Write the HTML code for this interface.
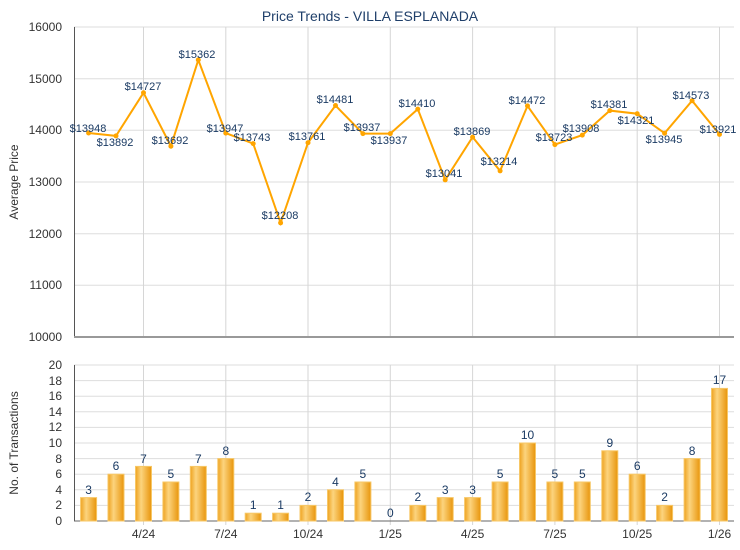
<!DOCTYPE html><html><head><meta charset="utf-8"><style>body{margin:0;background:#fff}svg{display:block;font-family:"Liberation Sans",sans-serif}</style></head><body>
<svg width="740" height="550" viewBox="0 0 740 550" xmlns="http://www.w3.org/2000/svg">
<defs><linearGradient id="g" x1="0" x2="1" y1="0" y2="0"><stop offset="0" stop-color="#eea21f"/><stop offset="0.35" stop-color="#fcd47e"/><stop offset="1" stop-color="#e8950c"/></linearGradient></defs>
<text x="370" y="21" text-anchor="middle" font-size="14" fill="#1f3f6a">Price Trends - VILLA ESPLANADA</text>
<g stroke="#ddd" stroke-width="1">
<line x1="74" x2="734" y1="27" y2="27"/><line x1="74" x2="734" y1="78.7" y2="78.7"/><line x1="74" x2="734" y1="130.3" y2="130.3"/><line x1="74" x2="734" y1="182" y2="182"/><line x1="74" x2="734" y1="233.7" y2="233.7"/><line x1="74" x2="734" y1="285.3" y2="285.3"/>
<line x1="74" x2="734" y1="365" y2="365"/><line x1="74" x2="734" y1="380.6" y2="380.6"/><line x1="74" x2="734" y1="396.2" y2="396.2"/><line x1="74" x2="734" y1="411.8" y2="411.8"/><line x1="74" x2="734" y1="427.4" y2="427.4"/><line x1="74" x2="734" y1="443" y2="443"/><line x1="74" x2="734" y1="458.6" y2="458.6"/><line x1="74" x2="734" y1="474.2" y2="474.2"/><line x1="74" x2="734" y1="489.8" y2="489.8"/><line x1="74" x2="734" y1="505.4" y2="505.4"/>
</g>
<g stroke="#d6d6d6">
<line x1="143.5" x2="143.5" y1="27" y2="337"/><line x1="225.8" x2="225.8" y1="27" y2="337"/><line x1="308" x2="308" y1="27" y2="337"/><line x1="390.3" x2="390.3" y1="27" y2="337"/><line x1="472.6" x2="472.6" y1="27" y2="337"/><line x1="554.9" x2="554.9" y1="27" y2="337"/><line x1="637.2" x2="637.2" y1="27" y2="337"/><line x1="719.5" x2="719.5" y1="27" y2="337"/>
<line x1="143.5" x2="143.5" y1="365" y2="525"/><line x1="225.8" x2="225.8" y1="365" y2="525"/><line x1="308" x2="308" y1="365" y2="525"/><line x1="390.3" x2="390.3" y1="365" y2="525"/><line x1="472.6" x2="472.6" y1="365" y2="525"/><line x1="554.9" x2="554.9" y1="365" y2="525"/><line x1="637.2" x2="637.2" y1="365" y2="525"/><line x1="719.5" x2="719.5" y1="365" y2="525"/>
</g>
<line x1="74.5" x2="74.5" y1="27" y2="337" stroke="#555"/>
<line x1="74" x2="734" y1="337" y2="337" stroke="#999" stroke-width="2"/>
<line x1="74.5" x2="74.5" y1="365" y2="521" stroke="#555"/>
<line x1="74" x2="734" y1="521" y2="521" stroke="#666"/>
<g font-size="12" fill="#333" text-anchor="end">
<text x="62" y="31">16000</text><text x="62" y="83">15000</text><text x="62" y="134">14000</text><text x="62" y="186">13000</text><text x="62" y="238">12000</text><text x="62" y="289">11000</text><text x="62" y="341">10000</text>
<text x="62" y="369">20</text><text x="62" y="385">18</text><text x="62" y="400">16</text><text x="62" y="416">14</text><text x="62" y="431">12</text><text x="62" y="447">10</text><text x="62" y="463">8</text><text x="62" y="478">6</text><text x="62" y="494">4</text><text x="62" y="509">2</text><text x="62" y="525">0</text>
</g>
<text transform="translate(18,182) rotate(-90)" font-size="12" fill="#333" text-anchor="middle">Average Price</text>
<text transform="translate(18,443) rotate(-90)" font-size="12" fill="#333" text-anchor="middle">No. of Transactions</text>
<g font-size="12" fill="#333" text-anchor="middle">
<text x="143.5" y="538">4/24</text><text x="225.8" y="538">7/24</text><text x="308" y="538">10/24</text><text x="390.3" y="538">1/25</text><text x="472.6" y="538">4/25</text><text x="554.9" y="538">7/25</text><text x="637.2" y="538">10/25</text><text x="719.5" y="538">1/26</text>
</g>
<polyline fill="none" stroke="#ffa500" stroke-width="2" points="88.6,133 116,135.9 143.5,92.8 170.9,146.2 198.3,59.9 225.8,133.1 253.2,143.6 280.6,222.9 308,142.7 335.5,105.5 362.9,133.6 390.3,133.6 417.8,109.1 445.2,179.9 472.6,137.1 500.1,170.9 527.5,105.9 554.9,144.6 582.3,135.1 609.8,110.6 637.2,113.7 664.6,133.2 692.1,100.7 719.5,134.4"/>
<g fill="#ffa500">
<circle cx="88.6" cy="133" r="2.5"/><circle cx="116" cy="135.9" r="2.5"/><circle cx="143.5" cy="92.8" r="2.5"/><circle cx="170.9" cy="146.2" r="2.5"/><circle cx="198.3" cy="59.9" r="2.5"/><circle cx="225.8" cy="133.1" r="2.5"/><circle cx="253.2" cy="143.6" r="2.5"/><circle cx="280.6" cy="222.9" r="2.5"/><circle cx="308" cy="142.7" r="2.5"/><circle cx="335.5" cy="105.5" r="2.5"/><circle cx="362.9" cy="133.6" r="2.5"/><circle cx="390.3" cy="133.6" r="2.5"/><circle cx="417.8" cy="109.1" r="2.5"/><circle cx="445.2" cy="179.9" r="2.5"/><circle cx="472.6" cy="137.1" r="2.5"/><circle cx="500.1" cy="170.9" r="2.5"/><circle cx="527.5" cy="105.9" r="2.5"/><circle cx="554.9" cy="144.6" r="2.5"/><circle cx="582.3" cy="135.1" r="2.5"/><circle cx="609.8" cy="110.6" r="2.5"/><circle cx="637.2" cy="113.7" r="2.5"/><circle cx="664.6" cy="133.2" r="2.5"/><circle cx="692.1" cy="100.7" r="2.5"/><circle cx="719.5" cy="134.4" r="2.5"/>
</g>
<g font-size="11" fill="#1a3a63" text-anchor="middle">
<text x="88" y="132">$13948</text><text x="115" y="146">$13892</text><text x="143" y="90">$14727</text><text x="170" y="144">$13692</text><text x="197" y="58">$15362</text><text x="225" y="132">$13947</text><text x="252" y="141">$13743</text><text x="280" y="219">$12208</text><text x="307" y="140">$13761</text><text x="335" y="103">$14481</text><text x="362" y="131">$13937</text><text x="389" y="144">$13937</text><text x="417" y="107">$14410</text><text x="444" y="177">$13041</text><text x="472" y="135">$13869</text><text x="499" y="165">$13214</text><text x="527" y="104">$14472</text><text x="554" y="141">$13723</text><text x="581" y="132">$13908</text><text x="609" y="108">$14381</text><text x="636" y="124">$14321</text><text x="664" y="143">$13945</text><text x="691" y="99">$14573</text><text x="718" y="133">$13921</text>
</g>
<g fill="url(#g)" stroke="#f7c766" stroke-width="1">
<rect x="80.6" y="497.6" width="16" height="23.4"/><rect x="108" y="474.2" width="16" height="46.8"/><rect x="135.5" y="466.4" width="16" height="54.6"/><rect x="162.9" y="482" width="16" height="39"/><rect x="190.3" y="466.4" width="16" height="54.6"/><rect x="217.8" y="458.6" width="16" height="62.4"/><rect x="245.2" y="513.2" width="16" height="7.8"/><rect x="272.6" y="513.2" width="16" height="7.8"/><rect x="300" y="505.4" width="16" height="15.6"/><rect x="327.5" y="489.8" width="16" height="31.2"/><rect x="354.9" y="482" width="16" height="39"/><rect x="409.8" y="505.4" width="16" height="15.6"/><rect x="437.2" y="497.6" width="16" height="23.4"/><rect x="464.6" y="497.6" width="16" height="23.4"/><rect x="492.1" y="482" width="16" height="39"/><rect x="519.5" y="443" width="16" height="78"/><rect x="546.9" y="482" width="16" height="39"/><rect x="574.3" y="482" width="16" height="39"/><rect x="601.8" y="450.8" width="16" height="70.2"/><rect x="629.2" y="474.2" width="16" height="46.8"/><rect x="656.6" y="505.4" width="16" height="15.6"/><rect x="684.1" y="458.6" width="16" height="62.4"/><rect x="711.5" y="388.4" width="16" height="132.6"/>
</g>
<g font-size="12" fill="#1a3a63" text-anchor="middle">
<text x="88.6" y="494">3</text><text x="116" y="470">6</text><text x="143.5" y="463">7</text><text x="170.9" y="478">5</text><text x="198.3" y="463">7</text><text x="225.8" y="455">8</text><text x="253.2" y="509">1</text><text x="280.6" y="509">1</text><text x="308" y="501">2</text><text x="335.5" y="486">4</text><text x="362.9" y="478">5</text><text x="390.3" y="517">0</text><text x="417.8" y="501">2</text><text x="445.2" y="494">3</text><text x="472.6" y="494">3</text><text x="500.1" y="478">5</text><text x="527.5" y="439">10</text><text x="554.9" y="478">5</text><text x="582.3" y="478">5</text><text x="609.8" y="447">9</text><text x="637.2" y="470">6</text><text x="664.6" y="501">2</text><text x="692.1" y="455">8</text><text x="719.5" y="384">17</text>
</g>
</svg>
</body></html>
